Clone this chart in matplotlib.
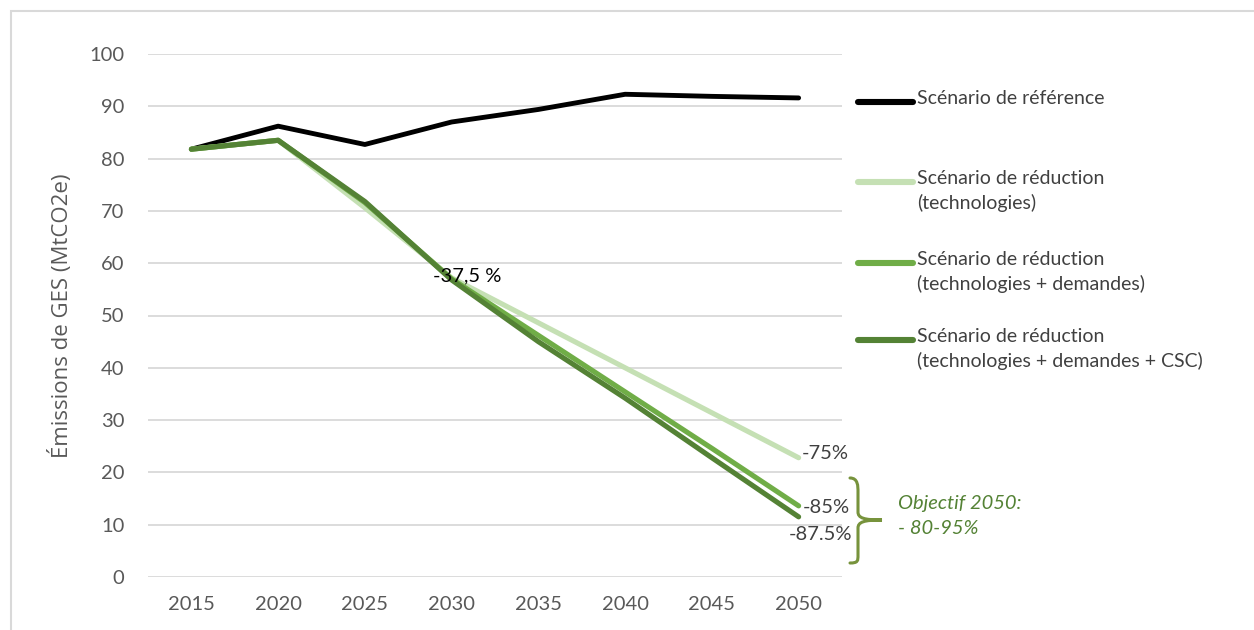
import matplotlib.pyplot as plt
from matplotlib.lines import Line2D
from matplotlib.patches import Rectangle, PathPatch
from matplotlib.path import Path

years = ["2015", "2020", "2025", "2030", "2035", "2040", "2045", "2050"]
ref = [81.8, 86.2, 82.7, 87.0, 89.4, 92.3, 91.9, 91.6]
tech = [81.8, 83.5, 70.6, 57.2, 48.6, 40.0, 31.4, 22.8]
tech_dem = [81.8, 83.5, 71.6, 57.0, 46.2, 35.4, 24.6, 13.6]
tech_dem_csc = [81.8, 83.5, 71.8, 56.8, 45.0, 34.2, 22.8, 11.5]

series_names = ["Scénario de référence",
                "Scénario de réduction\n(technologies)",
                "Scénario de réduction\n(technologies + demandes)",
                "Scénario de réduction\n(technologies + demandes + CSC)"]
colors = ["#000000", "#C5E0B4", "#70AD47", "#548235"]

W, H = 1254, 630
plt.rcParams['font.family'] = ['Lato', 'DejaVu Sans']
fig = plt.figure(figsize=(W / 100, H / 100), dpi=100)
ax = fig.add_axes([148 / W, 1 - 577 / H, (842 - 148) / W, (577 - 54) / H])

def fpx(x, y):
    return (x / W, 1 - y / H)

# outer chart border
fig.add_artist(Rectangle(fpx(11, 640), 1.1, (640 - 11) / H, transform=fig.transFigure,
                         fill=False, edgecolor="#D9D9D9", lw=1.5))

x = range(len(years))
widths = [3.5, 3.7, 3.7, 3.7]
for vals, c, lw in zip([ref, tech, tech_dem, tech_dem_csc], colors, widths):
    ax.plot(x, vals, color=c, lw=lw, solid_capstyle="round", solid_joinstyle="round", zorder=3)

ax.set_xlim(-0.5, len(years) - 0.5)
ax.set_ylim(0, 100)
ax.set_yticks(range(0, 101, 10))
ax.set_xticks(list(x))
ax.set_xticklabels(years)
ax.grid(axis="y", color="#D9D9D9", lw=1.3)
ax.set_axisbelow(True)
for s in ax.spines.values():
    s.set_visible(False)
ax.tick_params(length=0, labelsize=14.5, labelcolor="#595959")
ax.tick_params(axis="y", pad=17)
ax.tick_params(axis="x", pad=14)
ax.set_ylabel("Émissions de GES (MtCO2e)", fontsize=16, color="#595959",
              family=["Open Sans", "DejaVu Sans"], labelpad=12)

# data labels
ax.annotate("-37,5 %", (3, tech_dem_csc[3]), xytext=(11, 3), textcoords="offset points",
            ha="center", va="center", fontsize=14.5, color="#000000")
ax.annotate("-75%", (7, tech[7]), xytext=(2, 3), textcoords="offset points",
            ha="left", va="center", fontsize=14.5, color="#404040")
ax.annotate("-85%", (7, tech_dem[7]), xytext=(3, -1), textcoords="offset points",
            ha="left", va="center", fontsize=14.5, color="#404040")
ax.annotate("-87.5%", (7, tech_dem_csc[7]), xytext=(16, -13), textcoords="offset points",
            ha="center", va="center", fontsize=14.5, color="#404040")

# legend drawn on the right
legend_y = [102, 182, 263, 340]
for name, c, ly in zip(series_names, colors, legend_y):
    fig.add_artist(Line2D([858 / W, 913 / W], [1 - ly / H] * 2, transform=fig.transFigure,
                          color=c, lw=4.4, solid_capstyle="round"))
    fig.text(917 / W, 1 - (ly - 12) / H, name, ha="left", va="top", fontsize=14,
             color="#404040", linespacing=1.45)

# brace for the 2050 target
verts = [(850, 478), (858, 478), (858, 486), (858, 492),
         (858, 512),
         (858, 518), (864, 520), (882, 520),
         (864, 520), (858, 522), (858, 528),
         (858, 555),
         (858, 561), (858, 563), (850, 563)]
codes = [Path.MOVETO, Path.CURVE4, Path.CURVE4, Path.CURVE4,
         Path.LINETO,
         Path.CURVE4, Path.CURVE4, Path.CURVE4,
         Path.CURVE4, Path.CURVE4, Path.CURVE4,
         Path.LINETO,
         Path.CURVE4, Path.CURVE4, Path.CURVE4]
brace = Path([fpx(vx, vy) for vx, vy in verts], codes)
fig.add_artist(PathPatch(brace, transform=fig.transFigure, fill=False,
                         edgecolor="#77933C", lw=2.2, capstyle="round"))
fig.text(898 / W, 1 - 503 / H, "Objectif 2050:", ha="left", va="center",
         fontsize=14.5, style="italic", color="#548235")
fig.text(898 / W, 1 - 528 / H, "- 80-95%", ha="left", va="center",
         fontsize=14.5, style="italic", color="#548235")

fig.savefig("out.png", dpi=100, facecolor="white")
